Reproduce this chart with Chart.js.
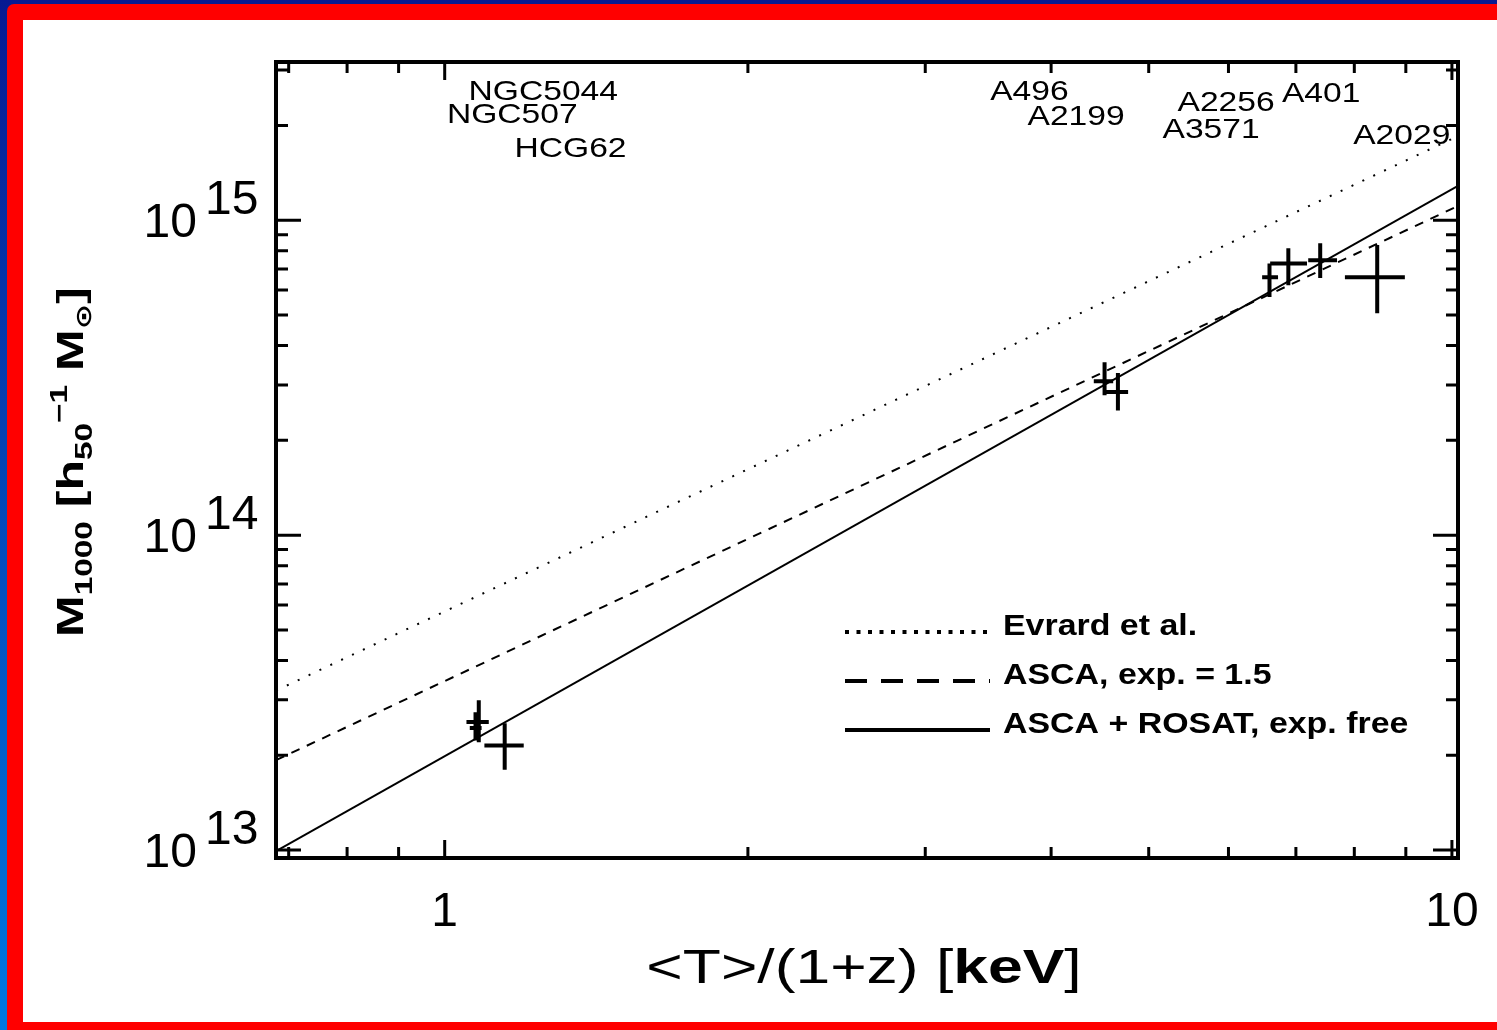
<!DOCTYPE html>
<html>
<head>
<meta charset="utf-8">
<script src="https://cdn.jsdelivr.net/npm/chart.js@4.4.1/dist/chart.umd.min.js"></script>
<style>
  html, body { margin: 0; padding: 0; width: 1497px; height: 1030px; overflow: hidden;
    background: linear-gradient(#071a92, #0078e0); }
  #frame { position: absolute; left: 7px; top: 4px; width: 1490px; height: 1026px;
    background: #ff0000; border-top-left-radius: 7px; }
  #paper { position: absolute; left: 23px; top: 20px; width: 1474px; height: 1002px; background: #fff; }
  #chart1 { position: absolute; left: 0; top: 0; }
</style>
</head>
<body>
<div id="frame"></div>
<div id="paper"></div>
<canvas id="chart1" width="1497" height="1030"></canvas>
<script>
  // cluster / group temperatures [keV] with error ranges
  let clusterT   = [1.073, 1.081, 1.147, 4.52, 4.66, 6.59, 6.88, 7.40, 8.43];
  let clusterTlo = [1.059, 1.051, 1.095, 4.41, 4.51, 6.48, 6.60, 7.20, 7.83];
  let clusterThi = [1.088, 1.106, 1.198, 4.61, 4.77, 6.72, 7.18, 7.69, 8.98];
  // M1000 masses [h50^-1 Msun] with error ranges
  let clusterM   = [2.44e13, 2.55e13, 2.15e13, 3.08e14, 2.85e14, 6.59e14, 7.29e14, 7.47e14, 6.59e14];
  let clusterMlo = [2.23e13, 2.20e13, 1.80e13, 2.78e14, 2.49e14, 5.70e14, 6.22e14, 6.55e14, 5.07e14];
  let clusterMhi = [2.74e13, 2.99e13, 2.53e13, 3.54e14, 3.27e14, 7.29e14, 8.15e14, 8.45e14, 8.34e14];

  // relations, given at the ends of the temperature range
  let fitT       = [0.68, 10.14];
  let evrardM    = [3.21e13, 1.85e15];
  let asca15M    = [1.93e13, 1.11e15];
  let ascaRosatM = [9.93e12, 1.285e15];

  let fitNames = ['Evrard et al.', 'ASCA, exp. = 1.5', 'ASCA + ROSAT, exp. free'];

  // names written along the top of the plot
  let nameText = ['NGC5044', 'NGC507', 'HCG62', 'A496', 'A2199', 'A2256', 'A401', 'A3571', 'A2029'];
  let nameT    = [1.056, 1.005, 1.173, 3.48, 3.79, 5.34, 6.78, 5.16, 7.98];
  let nameM    = [2.40e15, 2.03e15, 1.585e15, 2.40e15, 2.00e15, 2.23e15, 2.37e15, 1.82e15, 1.75e15];

  let xMajor = [1, 10];
  let xMinor = [0.7, 0.8, 0.9, 2, 3, 4, 5, 6, 7, 8, 9];
  let yExp   = [13, 14, 15];

  function fitLine(mass) {
    return fitT.map(function (t, i) { return {x: t, y: mass[i]}; });
  }

  // every cross is two segments, split by gaps
  function crossSegments() {
    let pts = [];
    for (let i = 0; i < clusterT.length; i++) {
      pts.push({x: clusterTlo[i], y: clusterM[i]}, {x: clusterThi[i], y: clusterM[i]}, {x: clusterT[i], y: null});
      pts.push({x: clusterT[i], y: clusterMlo[i]}, {x: clusterT[i], y: clusterMhi[i]}, {x: clusterT[i], y: null});
    }
    return pts;
  }

  function wideText(ctx, str, x, y, font, sx, align) {
    ctx.save();
    ctx.font = font;
    let w = ctx.measureText(str).width * sx;
    let x0 = align == 'center' ? x - w / 2 : (align == 'right' ? x - w : x);
    ctx.translate(x0, y);
    ctx.scale(sx, 1);
    ctx.textAlign = 'left';
    ctx.textBaseline = 'alphabetic';
    ctx.fillText(str, 0, 0);
    ctx.restore();
    return w;
  }

  const idlAxes = {
    id: 'idlAxes',
    afterDraw(chart) {
      let ctx = chart.ctx;
      let xs = chart.scales.x, ys = chart.scales.y, a = chart.chartArea;
      ctx.save();
      ctx.strokeStyle = '#000';
      ctx.fillStyle = '#000';

      // ticks on all four sides, pointing inwards
      ctx.lineWidth = 3;
      ctx.beginPath();
      xMajor.concat(xMinor).forEach(function (v) {
        let len = xMajor.indexOf(v) >= 0 ? 18 : 11;
        let px = xs.getPixelForValue(v);
        ctx.moveTo(px, a.bottom); ctx.lineTo(px, a.bottom - len);
        ctx.moveTo(px, a.top); ctx.lineTo(px, a.top + len);
      });
      yExp.forEach(function (e) {
        for (let k = 1; k <= 9; k++) {
          let v = k * Math.pow(10, e);
          if (v < ys.min || v > ys.max) continue;
          let len = k == 1 ? 25 : 12;
          let py = ys.getPixelForValue(v);
          ctx.moveTo(a.left, py); ctx.lineTo(a.left + len, py);
          ctx.moveTo(a.right, py); ctx.lineTo(a.right - len, py);
        }
      });
      ctx.stroke();

      ctx.lineWidth = 4;
      ctx.strokeRect(a.left, a.top, a.right - a.left, a.bottom - a.top);

      // tick labels
      xMajor.forEach(function (v) {
        wideText(ctx, String(v), xs.getPixelForValue(v), 926, '48px "Liberation Sans"', 1.0, 'center');
      });
      yExp.forEach(function (e) {
        let py = ys.getPixelForValue(Math.pow(10, e));
        wideText(ctx, '10', 197, py + 17, '48px "Liberation Sans"', 1.0, 'right');
        wideText(ctx, String(e), 205, py - 6, '48px "Liberation Sans"', 1.0, 'left');
      });

      // axis titles
      ctx.save();
      ctx.font = '48px "Liberation Sans"';
      let t1 = '<T>/(1+z) [', t2 = 'keV', t3 = ']';
      let sx = 1.3;
      ctx.font = '48px "Liberation Sans"';
      let w1 = ctx.measureText(t1).width, w3 = ctx.measureText(t3).width;
      ctx.font = 'bold 48px "Liberation Sans"';
      let w2 = ctx.measureText(t2).width;
      let x0 = 864 - (w1 + w2 + w3) * sx / 2;
      x0 += wideText(ctx, t1, x0, 983, '48px "Liberation Sans"', sx, 'left');
      x0 += wideText(ctx, t2, x0, 983, 'bold 48px "Liberation Sans"', sx, 'left');
      wideText(ctx, t3, x0, 983, '48px "Liberation Sans"', sx, 'left');
      ctx.restore();

      let parts = [
        ['M', 36, 0], ['1000', 24, 9], [' [', 36, 0], ['h', 36, 0], ['50', 24, 9],
        ['\u22121', 24, -16], [' M', 36, 0], ['\u2299', 22, 8], [']', 36, 0]
      ];
      ctx.save();
      ctx.translate(83, 637);
      ctx.rotate(-Math.PI / 2);
      let total = 0;
      parts.forEach(function (p) {
        ctx.font = 'bold ' + p[1] + 'px "Liberation Sans", "DejaVu Sans"';
        total += ctx.measureText(p[0]).width;
      });
      let ysx = 350 / total, u = 0;
      parts.forEach(function (p) {
        u += wideText(ctx, p[0], u, p[2], 'bold ' + p[1] + 'px "Liberation Sans", "DejaVu Sans"', ysx, 'left');
      });
      ctx.restore();

      // names along the top
      nameText.forEach(function (s, i) {
        wideText(ctx, s, xs.getPixelForValue(nameT[i]), ys.getPixelForValue(nameM[i]),
          '28px "Liberation Sans"', 1.2, 'left');
      });

      // legend
      let rows = [632, 681, 730];
      chart.data.datasets.slice(0, 3).forEach(function (ds, i) {
        ctx.save();
        ctx.lineWidth = 4;
        ctx.setLineDash(i == 0 ? [4, 7.5] : (i == 1 ? [22, 14] : []));
        ctx.beginPath();
        ctx.moveTo(845, rows[i]);
        ctx.lineTo(i == 0 ? 988 : 990, rows[i]);
        ctx.stroke();
        ctx.restore();
        wideText(ctx, ds.label, 1003, rows[i] + 3, 'bold 30px "Liberation Sans"', 1.13, 'left');
      });
      ctx.restore();
    }
  };

  new Chart(document.getElementById('chart1'), {
    type: 'line',
    data: {
      datasets: [
        {label: fitNames[0], data: fitLine(evrardM), borderColor: '#000', borderWidth: 2,
          borderDash: [2, 10], pointRadius: 0},
        {label: fitNames[1], data: fitLine(asca15M), borderColor: '#000', borderWidth: 2,
          borderDash: [9, 8], pointRadius: 0},
        {label: fitNames[2], data: fitLine(ascaRosatM), borderColor: '#000', borderWidth: 2,
          pointRadius: 0},
        {label: 'clusters', data: crossSegments(), borderColor: '#000', borderWidth: 4,
          pointRadius: 0, spanGaps: false, borderCapStyle: 'butt'}
      ]
    },
    options: {
      responsive: false,
      animation: false,
      layout: {padding: {left: 276, top: 62, right: 39, bottom: 172}},
      plugins: {legend: {display: false}, tooltip: {enabled: false}},
      scales: {
        x: {type: 'logarithmic', min: 0.68, max: 10.14, display: false},
        y: {type: 'logarithmic', min: 9.44e12, max: 3.18e15, display: false}
      }
    },
    plugins: [idlAxes]
  });
</script>
</body>
</html>
